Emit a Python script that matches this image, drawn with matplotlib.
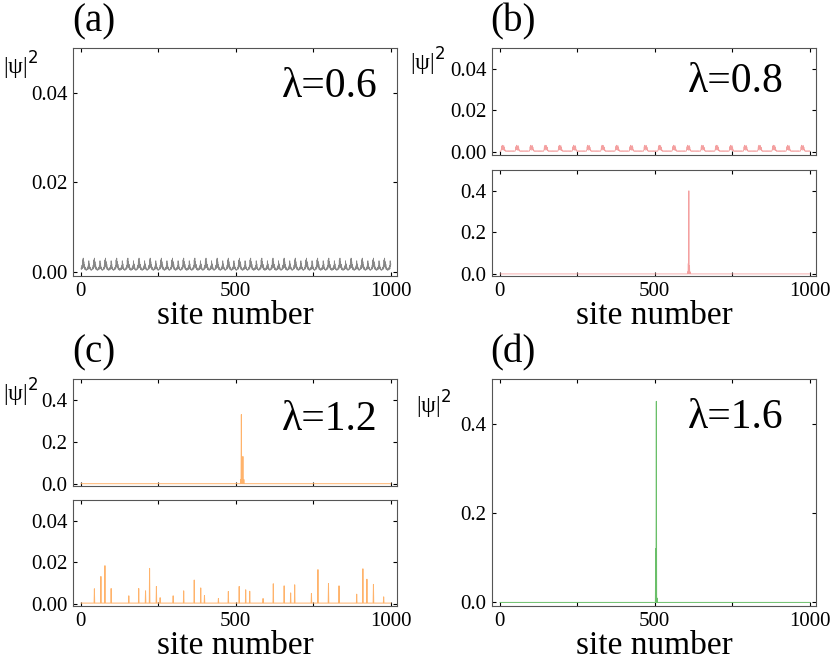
import numpy as np
import matplotlib.pyplot as plt

plt.rcParams['font.family'] = 'Liberation Serif'

n_sites = 1000
sites = np.arange(1, n_sites + 1)

# (a) lambda=0.6 : quasi-periodic extended state, motif (units 1e-3)
motif_a = [0.6, 0.9, 0.5, 1.4, 0.7, 2.6, 1.2, 3.0, 1.0, 2.2, 0.8, 1.6, 0.5, 1.0, 0.4, 0.7, 0.3, 0.5,
           0.3, 0.6, 0.4, 0.9, 0.5, 1.3, 0.6, 2.4, 1.1, 1.7, 0.6, 1.0, 0.4, 0.6, 0.3, 0.5, 0.3, 0.5]
# (b) lambda=0.8 top : extended part (units 1e-3)
motif_b = [0.3, 0.4, 0.3, 0.5, 1.2, 2.5, 1.0, 3.2, 1.5, 2.8, 0.8, 2.0, 3.0, 1.2, 2.2, 0.6, 1.0, 0.4,
           0.3, 0.5, 0.3, 0.4, 0.3, 0.5, 0.3, 0.4, 0.3, 0.5, 0.3, 0.4, 0.3, 0.5, 0.3, 0.4, 0.3, 0.5,
           0.3, 0.4, 0.3, 0.5, 0.3, 0.4, 0.3, 0.5, 0.3, 0.4]
# (b) bottom : localized peak
peak_b_sites = [606, 608, 610, 612, 614]
peak_b_vals = [0.01, 0.05, 0.40, 0.04, 0.01]
# (c) top : localized peaks
peak_c_sites = [516, 518, 520, 523, 526]
peak_c_vals = [0.02, 0.33, 0.05, 0.13, 0.02]
# (c) bottom : scattered spikes
spike_c_sites = [44, 65, 78, 98, 155, 187, 209, 222, 244, 256, 298, 332, 366, 387, 399, 444, 476, 511,
                 532, 545, 588, 621, 656, 677, 690, 744, 765, 799, 833, 890, 910, 923, 944, 977]
spike_c_vals = [0.0073, 0.0132, 0.0184, 0.0074, 0.0039, 0.0074, 0.0063, 0.0171, 0.0084, 0.003,
                0.0039, 0.0063, 0.0115, 0.0077, 0.004, 0.0026, 0.006, 0.0084, 0.0068, 0.0061,
                0.0026, 0.0097, 0.0087, 0.0053, 0.0092, 0.005, 0.0165, 0.0098, 0.0087, 0.0047,
                0.0169, 0.0119, 0.0094, 0.0034]
# (d) lambda=1.6
peak_d_sites = [503, 505, 507]
peak_d_vals = [0.12, 0.45, 0.01]

lambdas = ['0.6', '0.8', '1.2', '1.6']


def tiled(motif):
    reps = n_sites // len(motif) + 1
    return (np.tile(motif, reps)[:n_sites]) * 1e-3


def spiky(idx, vals, base=0.0):
    y = np.full(n_sites, base)
    y[np.array(idx) - 1] = vals
    return y


W, H = 830, 669
fig = plt.figure(figsize=(W / 100, H / 100), dpi=100)


def ax_px(x0, y0, x1, y1):
    return fig.add_axes([x0 / W, 1 - y1 / H, (x1 - x0) / W, (y1 - y0) / H])


def style(ax, xlabels=True):
    ax.set_xlim(-25, 1020)
    ax.set_xticks([0, 250, 500, 750, 1000])
    ax.set_xticklabels(['0', '', '500', '', '1000'] if xlabels else [])
    ax.tick_params(direction='in', top=True, right=True, labelsize=15, length=3, width=0.8, pad=4)
    for s in ax.spines.values():
        s.set_linewidth(0.8)
        s.set_color('#555555')


def psi_label(x, y):
    fig.text(x / W, 1 - y / H, '|ψ|$^2$', fontsize=17, ha='left', va='center')


# (a)
ax = ax_px(73, 48, 397, 276)
ax.plot(sites, tiled(motif_a), color='#888888', lw=0.6)
ax.set_ylim(-0.001, 0.05)
ax.set_yticks([0, 0.02, 0.04])
ax.set_yticklabels(['0.00', '0.02', '0.04'])
style(ax)
ax.set_xlabel('site number', fontsize=24, labelpad=0)
ax.text(0.94, 0.83, 'λ=' + lambdas[0], transform=ax.transAxes, fontsize=30, ha='right', va='center')
fig.text(72 / W, 1 - 22 / H, '(a)', fontsize=28, va='center')
psi_label(3, 66)

# (b)
ax = ax_px(492, 48, 816, 155)
ax.plot(sites, tiled(motif_b), color='#f4a0a0', lw=0.6)
ax.set_ylim(-0.0015, 0.05)
ax.set_yticks([0, 0.02, 0.04])
ax.set_yticklabels(['0.00', '0.02', '0.04'])
style(ax, xlabels=False)
ax.text(0.90, 0.68, 'λ=' + lambdas[1], transform=ax.transAxes, fontsize=30, ha='right', va='center')
fig.text(490 / W, 1 - 22 / H, '(b)', fontsize=28, va='center')
psi_label(410, 62)

ax = ax_px(492, 170, 816, 276)
ax.plot(sites, spiky(peak_b_sites, peak_b_vals), color='#f4a0a0', lw=0.6)
ax.set_ylim(-0.01, 0.5)
ax.set_yticks([0, 0.2, 0.4])
ax.set_yticklabels(['0.0', '0.2', '0.4'])
style(ax)
ax.set_xlabel('site number', fontsize=24, labelpad=0)

# (c)
ax = ax_px(73, 379, 397, 486)
ax.plot(sites, spiky(peak_c_sites, peak_c_vals), color='#ffb36b', lw=0.7)
ax.set_ylim(-0.011, 0.5)
ax.set_yticks([0, 0.2, 0.4])
ax.set_yticklabels(['0.0', '0.2', '0.4'])
style(ax, xlabels=False)
ax.text(0.94, 0.62, 'λ=' + lambdas[2], transform=ax.transAxes, fontsize=30, ha='right', va='center')
fig.text(72 / W, 1 - 353 / H, '(c)', fontsize=28, va='center')
psi_label(3, 393)

ax = ax_px(73, 500, 397, 606)
ax.plot(sites, spiky(spike_c_sites, spike_c_vals, base=0.0004), color='#ffb36b', lw=0.7)
ax.set_ylim(-0.001, 0.05)
ax.set_yticks([0, 0.02, 0.04])
ax.set_yticklabels(['0.00', '0.02', '0.04'])
style(ax)
ax.set_xlabel('site number', fontsize=24, labelpad=0)

# (d)
ax = ax_px(492, 379, 816, 606)
ax.plot(sites, spiky(peak_d_sites, peak_d_vals), color='#6abf69', lw=0.7)
ax.set_ylim(-0.008, 0.5)
ax.set_yticks([0, 0.2, 0.4])
ax.set_yticklabels(['0.0', '0.2', '0.4'])
style(ax)
ax.set_xlabel('site number', fontsize=24, labelpad=0)
ax.text(0.90, 0.83, 'λ=' + lambdas[3], transform=ax.transAxes, fontsize=30, ha='right', va='center')
fig.text(490 / W, 1 - 353 / H, '(d)', fontsize=28, va='center')
psi_label(416, 405)

fig.savefig('out.png', dpi=100)
